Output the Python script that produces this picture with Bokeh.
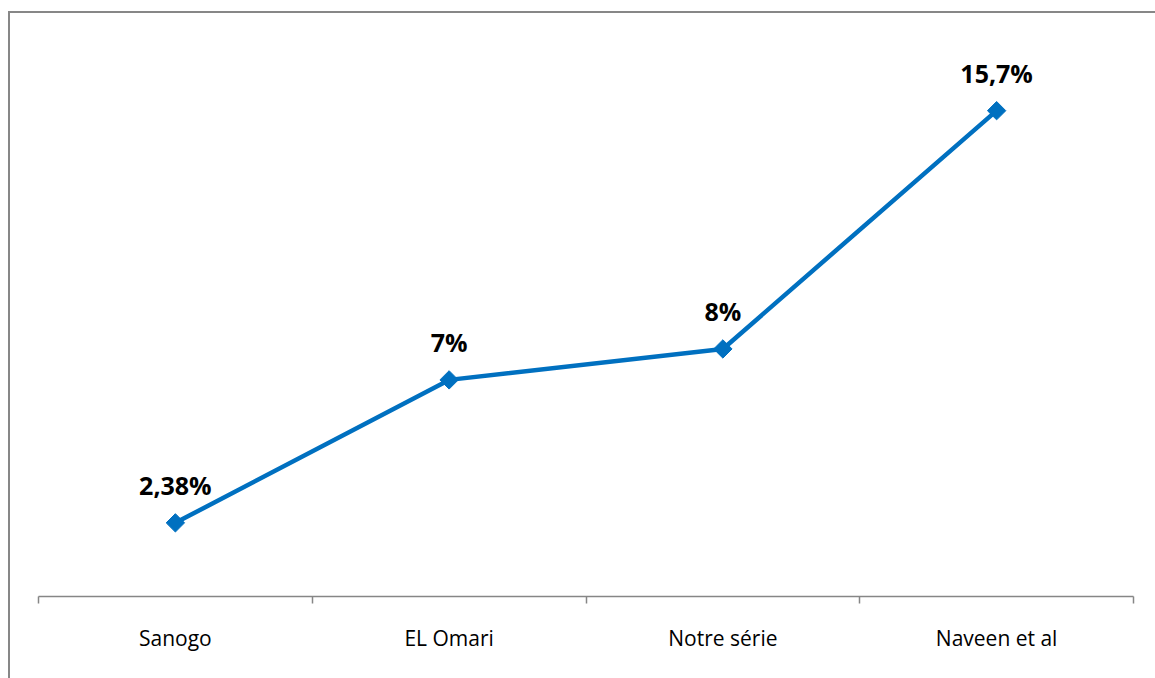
import math
from bokeh.plotting import figure
from bokeh.models import FixedTicker, ColumnDataSource, Range1d
from bokeh.core.properties import value
from bokeh.embed import file_html
from bokeh.resources import INLINE

categories = ["Sanogo", "EL Omari", "Notre série", "Naveen et al"]
values = [2.38, 7, 8, 15.7]
labels = ["2,38%", "7%", "8%", "15,7%"]

xs = [i + 0.5 for i in range(len(categories))]
src = ColumnDataSource(dict(x=xs, y=values, lab=labels))

p = figure(width=1147, height=667, output_backend="svg", toolbar_location=None,
           x_range=Range1d(0, 4), y_range=Range1d(0, 18),
           min_border_left=28, min_border_right=24, min_border_top=26, min_border_bottom=84)
p.styles = {"border-left": "2px solid #878787", "border-top": "2px solid #878787",
            "margin-top": "11px", "margin-left": "8px"}
p.outline_line_color = None
p.grid.visible = False
p.yaxis.visible = False

ax = p.xaxis[0]
ax.ticker = FixedTicker(ticks=xs, minor_ticks=[0, 1, 2, 3, 4])
ax.major_label_overrides = {x: c for x, c in zip(xs, categories)}
ax.major_tick_out = 0
ax.major_tick_in = 0
ax.minor_tick_out = 7
ax.minor_tick_in = 0
ax.minor_tick_line_color = "#868686"
ax.minor_tick_line_width = 1.5
ax.axis_line_color = "#868686"
ax.axis_line_width = 1.5
ax.major_label_text_font = "Open Sans"
ax.major_label_text_font_size = "21px"
ax.major_label_text_color = "#000000"
ax.major_label_standoff = 20

p.line("x", "y", source=src, line_color="#0070C0", line_width=4.5)
p.scatter("x", "y", source=src, marker="square", angle=math.pi / 4, size=13,
          fill_color="#0070C0", line_color="#0070C0", line_width=1)
p.text("x", "y", text="lab", source=src, y_offset=-38, text_align="center", text_baseline="middle",
       text_font=value("Open Sans"), text_font_style="bold", text_font_size="25px", text_color="#000000")

open("out.html", "w").write(file_html(p, INLINE))
